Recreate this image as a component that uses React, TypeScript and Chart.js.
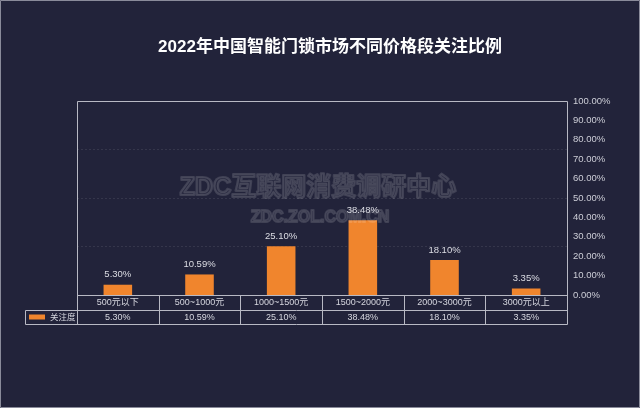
import React, { useEffect, useRef } from "react";
import { Chart, registerables } from "chart.js";

Chart.register(...registerables);

const title = "2022年中国智能门锁市场不同价格段关注比例";
const seriesName = "关注度";
const categories = ["500元以下", "500~1000元", "1000~1500元", "1500~2000元", "2000~3000元", "3000元以上"];
const values = [5.3, 10.59, 25.1, 38.48, 18.1, 3.35];
const watermarkMain = "ZDC互联网消费调研中心";
const watermarkSub = "ZDC.ZOL.COM.CN";

const BG = "#22233a";
const ORANGE = "#F0852D";
const LINE = "#b8b9c4";
const TEXT = "#d6d7df";
const FONT = '"Liberation Sans", "Noto Sans CJK SC", sans-serif';

const fmt = (v: number) => v.toFixed(2) + "%";

const decor = {
  id: "decor",
  beforeDraw(chart: any) {
    const { ctx, width, height } = chart;
    ctx.save();
    ctx.fillStyle = BG;
    ctx.fillRect(0, 0, width, height);
    ctx.restore();
  },
  afterDatasetsDraw(chart: any) {
    const { ctx, chartArea } = chart;
    const xs = chart.scales.x;
    const meta = chart.getDatasetMeta(0);
    ctx.save();
    // watermark
    ctx.textAlign = "center";
    ctx.textBaseline = "middle";
    ctx.lineJoin = "round";
    ctx.font = `bold 25px ${FONT}`;
    ctx.lineWidth = 2.2;
    ctx.strokeStyle = "rgba(255,255,255,0.14)";
    ctx.fillStyle = "rgba(255,255,255,0.04)";
    ctx.strokeText(watermarkMain, 318, 188);
    ctx.fillText(watermarkMain, 318, 188);
    ctx.font = `bold 16px ${FONT}`;
    ctx.lineWidth = 1.8;
    ctx.strokeText(watermarkSub, 320, 218);
    ctx.fillText(watermarkSub, 320, 218);

    // data labels
    ctx.font = `9.5px ${FONT}`;
    ctx.fillStyle = "#dcdde4";
    ctx.textBaseline = "middle";
    meta.data.forEach((bar: any, i: number) => {
      ctx.fillText(fmt(values[i]), bar.x, bar.y - 10);
    });

    // frame + table
    const L = chartArea.left;
    const R = chartArea.right;
    const T = chartArea.top;
    const B = chartArea.bottom;
    const r1 = B + 15;
    const r2 = B + 29;
    const legL = 25;
    ctx.strokeStyle = LINE;
    ctx.lineWidth = 1;
    const line = (x1: number, y1: number, x2: number, y2: number) => {
      ctx.beginPath();
      ctx.moveTo(Math.round(x1) + 0.5, Math.round(y1) + 0.5);
      ctx.lineTo(Math.round(x2) + 0.5, Math.round(y2) + 0.5);
      ctx.stroke();
    };
    line(L, T, R, T);
    line(L, T, L, r2);
    line(R, T, R, r2);
    line(L, B, R, B);
    line(legL, r1, R, r1);
    line(legL, r2, R, r2);
    line(legL, r1, legL, r2);
    const step = (R - L) / categories.length;
    for (let i = 1; i < categories.length; i++) {
      const x = L + step * i;
      line(x, B, x, r2);
    }
    ctx.fillStyle = TEXT;
    ctx.font = `9px ${FONT}`;
    ctx.textAlign = "center";
    categories.forEach((c, i) => {
      const cx = xs.getPixelForValue(i);
      ctx.fillText(c, cx, (B + r1) / 2 + 0.5);
      ctx.fillText(fmt(values[i]), cx, (r1 + r2) / 2 + 0.5);
    });
    // legend cell
    ctx.fillStyle = ORANGE;
    ctx.fillRect(29, r1 + 4.5, 16, 5);
    ctx.fillStyle = TEXT;
    ctx.textAlign = "left";
    ctx.font = `8.5px ${FONT}`;
    ctx.fillText(seriesName, 50, (r1 + r2) / 2 + 0.5);

    // title
    ctx.fillStyle = "#ffffff";
    ctx.textAlign = "center";
    ctx.font = `bold 17px ${FONT}`;
    ctx.fillText(title, 330, 47);

    // outer border
    ctx.strokeStyle = "#8a8b9a";
    ctx.strokeRect(0.5, 0.5, chart.width - 1, chart.height - 1);
    ctx.restore();
  },
};

export default function App() {
  const ref = useRef<HTMLCanvasElement | null>(null);
  useEffect(() => {
    document.body.style.margin = "0";
    if (!ref.current) return;
    const chart = new Chart(ref.current, {
      type: "bar",
      data: {
        labels: categories,
        datasets: [
          {
            label: seriesName,
            data: values,
            backgroundColor: ORANGE,
            categoryPercentage: 1,
            barPercentage: 0.35,
            yAxisID: "y",
          },
        ],
      },
      options: {
        responsive: false,
        animation: false,
        layout: { padding: { top: 101, left: 77, right: 0, bottom: 113 } },
        plugins: {
          legend: { display: false },
          tooltip: { enabled: false },
          title: { display: false },
        },
        scales: {
          x: { display: false },
          y: {
            position: "right",
            min: 0,
            max: 100,
            ticks: {
              stepSize: 10,
              color: "#cdced7",
              font: { size: 9.5, family: FONT },
              padding: 6,
              callback: (v: any) => fmt(Number(v)),
            },
            grid: { display: false, drawTicks: false },
            border: { display: false },
            afterFit: (s: any) => {
              s.width = 73;
            },
          },
          yGrid: {
            position: "left",
            min: 0,
            max: 100,
            ticks: { display: false, stepSize: 25 },
            grid: {
              drawTicks: false,
              color: (c: any) =>
                c.tick && (c.tick.value === 0 || c.tick.value === 100)
                  ? "rgba(0,0,0,0)"
                  : "rgba(255,255,255,0.09)",
            },
            border: { display: false, dash: [2, 2] },
            afterFit: (s: any) => {
              s.width = 0;
            },
          },
        },
      },
      plugins: [decor],
    } as any);
    return () => chart.destroy();
  }, []);
  return (
    <div style={{ position: "absolute", left: 0, top: 0, width: 640, height: 408 }}>
      <canvas ref={ref} width={640} height={408} />
    </div>
  );
}
